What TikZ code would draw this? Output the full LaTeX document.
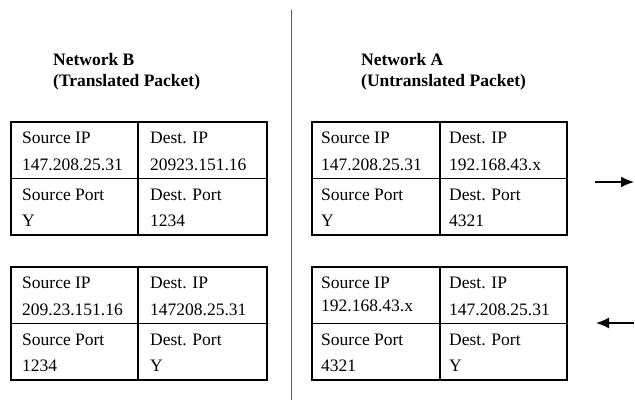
\documentclass[tikz,border=0pt]{standalone}
\usepackage{fontspec}
\setmainfont{Liberation Serif}
\usetikzlibrary{arrows.meta}
\begin{document}
\begin{tikzpicture}[x=1pt,y=-1pt,
  txt/.style={anchor=base west,inner sep=0pt,font=\fontsize{17.5}{20}\selectfont},
  hdr/.style={anchor=base west,inner sep=0pt,font=\fontsize{17.5}{20}\selectfont\bfseries},
  outer/.style={draw,line width=2.2pt},
  inner/.style={line width=1.3pt},
  arr/.style={line width=1.8pt,-{Latex[length=13pt,width=11pt]}}]
\useasboundingbox (0,0) rectangle (635,404);
% divider
\coordinate (vt) at (291,10);
\coordinate (vb) at (291,400);
\draw[gray!70!black,line width=0.8pt] (vt) -- (vb);
% headers
\node[hdr] (hB1) at (53,66) {Network B};
\node[hdr] (hB2) at (53,87) {(Translated Packet)};
\node[hdr] (hA1) at (361,66) {Network A};
\node[hdr] (hA2) at (361,87) {(Untranslated Packet)};
% tables: left x, top y, divider x, right x
\foreach \L/\T/\M/\R/\n in {11/122/138/267/tl, 11/267/138/267/bl, 312/122/440/567/tr, 312/267/440/567/br}{
  \coordinate (\n-nw) at (\L,\T);
  \coordinate (\n-se) at (\R,\T+113);
  \coordinate (\n-mt) at (\M,\T);
  \coordinate (\n-mb) at (\M,\T+113);
  \coordinate (\n-lm) at (\L,\T+56.5);
  \coordinate (\n-rm) at (\R,\T+56.5);
  \draw[inner] (\n-mt) -- (\n-mb);
  \draw[inner] (\n-lm) -- (\n-rm);
  \draw[outer] (\n-nw) rectangle (\n-se);
}
% top-left table
\node[txt] (tl1) at (22,143.5) {Source IP};
\node[txt] (tl2) at (22,170) {147.208.25.31};
\node[txt] (tl3) at (22,200) {Source Port};
\node[txt] (tl4) at (22,226) {Y};
\node[txt] (tl5) at (150,143.5) {Dest. IP};
\node[txt] (tl6) at (150,170) {20923.151.16};
\node[txt] (tl7) at (150,200) {Dest. Port};
\node[txt] (tl8) at (150,226) {1234};
% bottom-left table
\node[txt] (bl1) at (22,288.5) {Source IP};
\node[txt] (bl2) at (22,315) {209.23.151.16};
\node[txt] (bl3) at (22,345) {Source Port};
\node[txt] (bl4) at (22,371) {1234};
\node[txt] (bl5) at (150,288.5) {Dest. IP};
\node[txt] (bl6) at (150,315) {147208.25.31};
\node[txt] (bl7) at (150,345) {Dest. Port};
\node[txt] (bl8) at (150,371) {Y};
% top-right table
\node[txt] (tr1) at (321,143.5) {Source IP};
\node[txt] (tr2) at (321,170) {147.208.25.31};
\node[txt] (tr3) at (321,200) {Source Port};
\node[txt] (tr4) at (321,226) {Y};
\node[txt] (tr5) at (449,143.5) {Dest. IP};
\node[txt] (tr6) at (449,170) {192.168.43.x};
\node[txt] (tr7) at (449,200) {Dest. Port};
\node[txt] (tr8) at (449,226) {4321};
% bottom-right table
\node[txt] (br1) at (321,288.5) {Source IP};
\node[txt] (br2) at (321,311) {192.168.43.x};
\node[txt] (br3) at (321,345) {Source Port};
\node[txt] (br4) at (321,371) {4321};
\node[txt] (br5) at (449,288.5) {Dest. IP};
\node[txt] (br6) at (449,315) {147.208.25.31};
\node[txt] (br7) at (449,345) {Dest. Port};
\node[txt] (br8) at (449,371) {Y};
% arrows
\coordinate (a1s) at (595,182);
\coordinate (a1e) at (634,182);
\coordinate (a2s) at (634,323);
\coordinate (a2e) at (596,323);
\draw[arr] (a1s) -- (a1e);
\draw[arr] (a2s) -- (a2e);
\end{tikzpicture}
\end{document}
